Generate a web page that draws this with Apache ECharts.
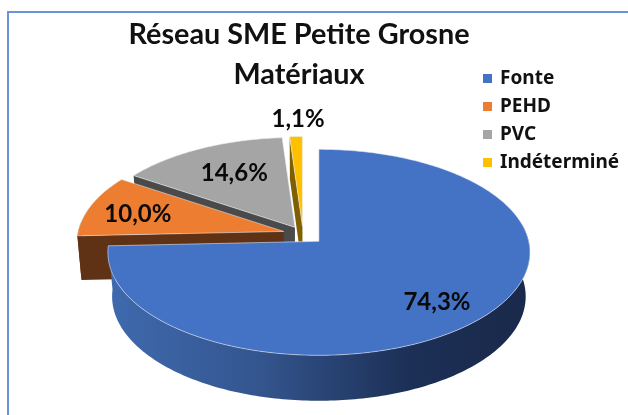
<!DOCTYPE html>
<html><head><meta charset="utf-8">
<style>html,body{margin:0;padding:0;background:#fff}#c{width:628px;height:415px}</style>
<script src="https://cdn.jsdelivr.net/npm/echarts@6/dist/echarts.min.js"></script>
</head><body><div id="c"></div>
<script>
const categories = ['Fonte', 'PEHD', 'PVC', 'Indéterminé'];
const values = [74.3, 10.0, 14.6, 1.1];
const titleLines = ['Réseau SME Petite Grosne', 'Matériaux'];

// Drawing style only
const topColors = ['#4472c4', '#ed7d31', '#a5a5a5', '#ffc000'];
const cutColors = ['#2f528f', '#5f3216', '#4a4a4a', '#7f6000'];
const explode = [22, 20, 16, 16];
const radiusScale = [1, 0.98, 0.975, 0.975];
const labelRadius = [0.76, 0.72, 0.6, 1.16];
const labelNudge = [[-4, 4], [-6, 2], [-2, -5], [3, -4]];
const CX = 303, CY = 234, RX = 209.8, RY = 101.8, K = 0.107, SQUASH = 0.48;
const total = values.reduce((a, b) => a + b, 0);

function project(deg, r) {
  const t = deg * Math.PI / 180, u = r * Math.sin(t), v = -r * Math.cos(t);
  const w = 1 - K * v;
  return [RX * u / w, RY * v / w];
}
function renderSlice(i) {
  return function (params, api) {
    const value = api.value(0);
    let before = 0;
    for (let k = 0; k < i; k++) before += values[k];
    const a0 = before / total * 360, a1 = (before + value) / total * 360, mid = (a0 + a1) / 2;
    const mt = mid * Math.PI / 180, d = explode[i];
    const ax = CX + d * Math.sin(mt), ay = CY - d * Math.cos(mt) * SQUASH;
    const at = (deg, r) => { const p = project(deg, r * radiusScale[i]); return [ax + p[0], ay + p[1]]; };
    // the pie's lower rim under a top-rim point: slightly narrower, further from the viewer
    const lower = (p, deg) => {
      const v = -Math.cos(deg * Math.PI / 180);
      return [ax + (p[0] - ax) * 0.98, p[1] + 44 + 1.5 * v];
    };
    const children = [];

    // outer wall: only the part of the rim that faces the viewer
    const w0 = Math.max(a0, 80), w1 = Math.min(a1, 275);
    if (w1 > w0) {
      const up = [], down = [];
      for (let a = w0; a <= w1; a += 1) { const p = at(a, 1); up.push(p); down.unshift(lower(p, a)); }
      const end = at(w1, 1); up.push(end); down.unshift(lower(end, w1));
      const fill = i === 0 ? { type: 'linear', x: 0, y: 0, x2: 1, y2: 0, colorStops: [
        { offset: 0, color: '#3f6aaf' }, { offset: 0.35, color: '#34568f' },
        { offset: 0.72, color: '#1c2f55' }, { offset: 1, color: '#19294b' }] } : cutColors[i];
      children.push({ type: 'polygon', shape: { points: up.concat(down) }, style: { fill: fill } });
    }
    // cut face along the slice's first edge
    if (i > 0) {
      const o = at(a0, 1);
      children.push({ type: 'polygon', shape: { points: [[ax, ay], o, lower(o, a0), [ax, ay + 44]] },
        style: { fill: cutColors[i] } });
    }
    // top face
    const pts = [[ax, ay]];
    for (let a = a0; a < a1; a += 1) pts.push(at(a, 1));
    pts.push(at(a1, 1));
    children.push({ type: 'polygon', shape: { points: pts },
      style: { fill: topColors[i], stroke: 'rgba(235,238,245,0.55)', lineWidth: 1 } });
    // value label
    const lp = at(mid, labelRadius[i]);
    children.push({ type: 'text', x: lp[0] + labelNudge[i][0], y: lp[1] + labelNudge[i][1], style: {
      text: value.toFixed(1).replace('.', ',') + '%', align: 'center', verticalAlign: 'middle',
      font: 'bold 24px Lato', fill: '#0a0a0a' } });
    return { type: 'group', children: children };
  };
}

const chart = echarts.init(document.getElementById('c'), null, { renderer: 'canvas' });
chart.setOption({
  animation: false,
  backgroundColor: '#fff',
  title: {
    text: titleLines.join('\n'), left: 294, top: 10, textAlign: 'center',
    textStyle: { fontFamily: 'Lato', fontWeight: 'bold', fontSize: 28.8, lineHeight: 40, color: '#111' }
  },
  legend: {
    data: categories, orient: 'vertical', left: 478, top: 64, itemWidth: 9, itemHeight: 9, itemGap: 9,
    icon: 'rect', selectedMode: false,
    textStyle: { fontFamily: 'Noto Sans', fontWeight: 'bold', fontSize: 19, color: '#111', padding: [0, 0, 0, 3] }
  },
  graphic: [{ type: 'rect', z: -1, shape: { x: 8, y: 12, width: 800, height: 600 },
    style: { fill: '#fff', stroke: '#6a93d8', lineWidth: 2 } }],
  series: categories.map((name, i) => ({
    type: 'custom', name: name, coordinateSystem: 'none', z: 10 - i,
    itemStyle: { color: topColors[i] },
    data: [[values[i]]], renderItem: renderSlice(i)
  }))
});
</script></body></html>
